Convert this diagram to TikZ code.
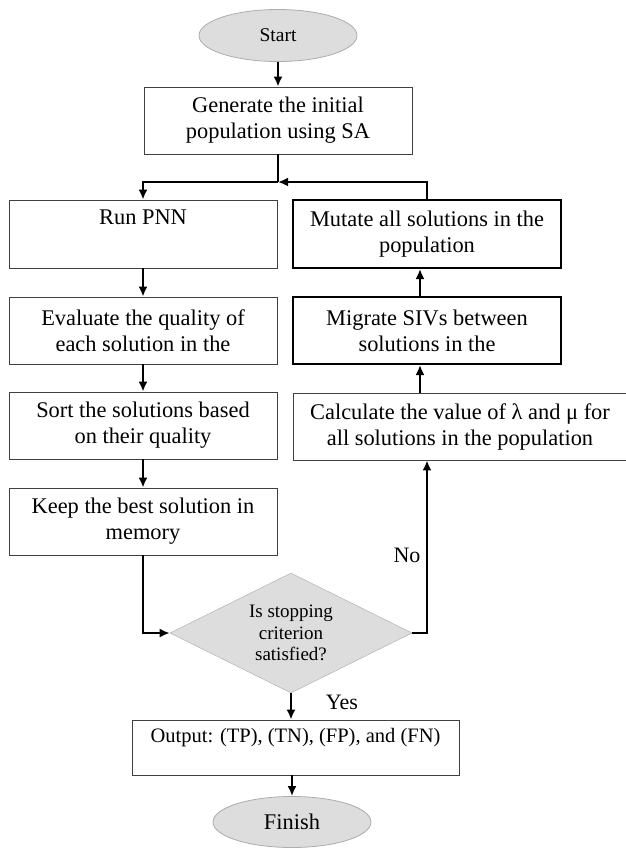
\documentclass[tikz,border=0pt]{standalone}
\usepackage{fontspec}
\setmainfont{Liberation Serif}
\usetikzlibrary{shapes.geometric,arrows.meta}
\tikzset{
  box/.style={draw=black!75, line width=.8pt, fill=white, align=center, inner sep=0pt,
    minimum width=268pt, minimum height=67pt, font=\fontsize{22.4}{26}\selectfont},
  boldbox/.style={box, draw=black, line width=2pt},
  term/.style={ellipse, draw=gray!65, fill=gray!27, line width=.8pt, inner sep=0pt,
    minimum width=158pt, minimum height=52pt},
  test/.style={diamond, aspect=2, draw=gray!55, fill=gray!27, line width=.6pt, inner sep=0pt,
    minimum width=242pt, minimum height=120pt, align=center, font=\fontsize{19}{21.5}\selectfont},
  lbl/.style={inner sep=0pt, font=\fontsize{22}{26}\selectfont},
}
\begin{document}
\begin{tikzpicture}[>={Latex[length=10pt,width=9pt]}, x=1pt, y=-1pt, line width=2.2pt]
\useasboundingbox (0,0) rectangle (625,849);
% terminals and steps
\node[term, font=\fontsize{19.5}{22}\selectfont] (start) at (278,35.5) {Start};
\node[box] (init) at (278,120.5) {Generate the initial\\population using SA};
\node[box, minimum height=68pt] (pnn) at (143,234) {Run PNN\\\strut};
\node[boldbox, minimum height=68pt] (mutate) at (427,234) {Mutate all solutions in the\\population};
\node[box] (eval) at (143,330.5) {Evaluate the quality of\\each solution in the};
\node[boldbox] (mig) at (427,330.5) {Migrate SIVs between\\solutions in the};
\node[box] (sort) at (143,425.5) {Sort the solutions based\\on their quality};
\node[box, minimum width=334pt] (calc) at (460,426.5) {Calculate the value of λ and μ for\\all solutions in the population};
\node[box] (keep) at (143,521.5) {Keep the best solution in\\memory};
\node[test] (stop) at (291,633) {Is stopping\\criterion\\satisfied?};
\node[box, minimum width=327pt, minimum height=55pt, font=\fontsize{20.5}{26}\selectfont] (out) at (295.5,747.5) {Output: (TP), (TN), (FP), and (FN)\\[-10pt]\strut};
\node[term, minimum height=51pt, font=\fontsize{22.4}{26}\selectfont] (fin) at (292,822) {Finish};
\node[lbl] (yes) at (342,702) {Yes};
\node[lbl] (no) at (407,555) {No};
\coordinate (join) at (278,182);
% connectors
\draw[->] (start) -- (init);
\draw (init) -- (join);
\draw[->] (join) -| (pnn);
\draw[->] (mutate) |- (join);
\draw[->] (pnn) -- (eval);
\draw[->] (eval) -- (sort);
\draw[->] (sort) -- (keep);
\draw[->] (keep) |- (stop);
\draw[->] (stop) -- (stop |- out.north);
\draw[->] (out.south -| fin) -- (fin);
\draw[->] (stop) -| (calc.south -| mutate);
\draw[->] (calc.north -| mig) ++(-7,0) -- ([xshift=-7pt]mig.south);
\draw[->] (mig.north) ++(-7,0) -- ([xshift=-7pt]mutate.south);
\end{tikzpicture}
\end{document}
